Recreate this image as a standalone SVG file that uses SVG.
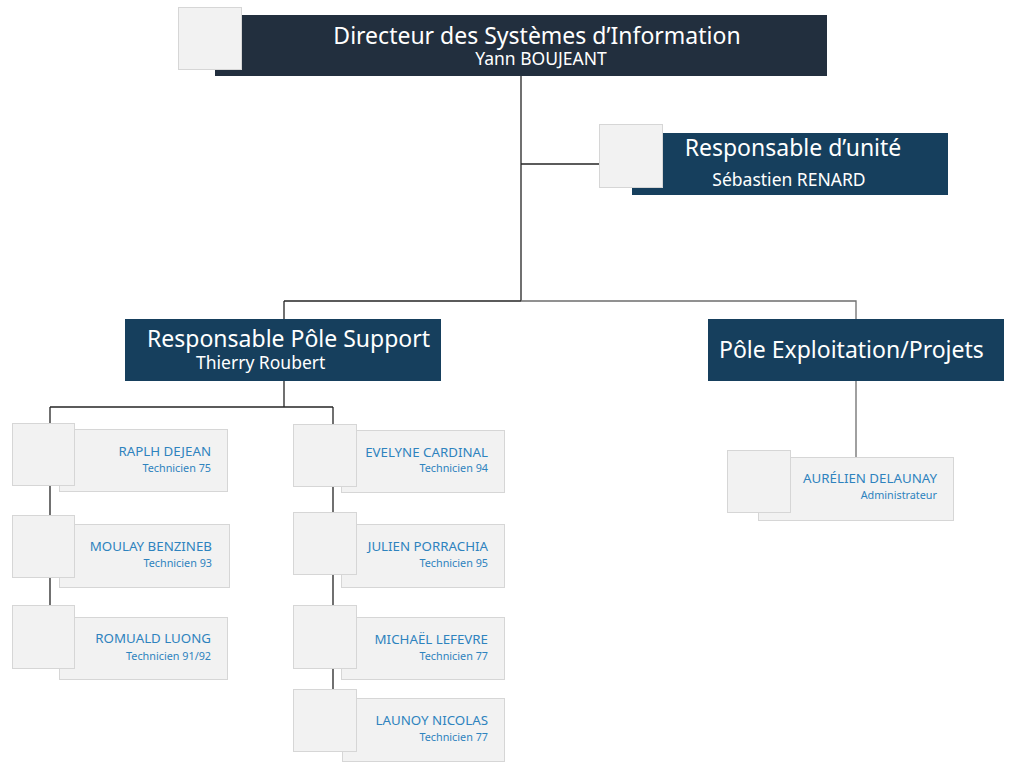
<svg xmlns="http://www.w3.org/2000/svg" width="1020" height="767" viewBox="0 0 1020 767">
<style>
.ln{stroke:#262626;stroke-width:1.3;fill:none}
.lg{stroke:#6e6e6e;stroke-width:1.3;fill:none}
.ph{fill:#f2f2f2;stroke:#d6d6d6;stroke-width:1}
.cd{fill:#f2f2f2;stroke:#d6d6d6;stroke-width:1}
.hd{fill:#163f5d}
.t1{font-family:"Noto Sans","Open Sans",sans-serif;font-size:23px;fill:#ffffff}
.t2{font-family:"Noto Sans","Open Sans",sans-serif;font-size:17.5px;fill:#ffffff}
.nm{font-family:"Noto Sans","Open Sans",sans-serif;font-size:13.3px;fill:#2e83be;text-anchor:end}
.sb{font-family:"Noto Sans","Open Sans",sans-serif;font-size:10.8px;fill:#2e83be;text-anchor:end}
</style>
<rect width="1020" height="767" fill="#ffffff"/>
<g id="connectors">
<path class="ln" d="M521 76V301M521 164H599M284 301H521M284 301V319"/>
<path class="lg" d="M521 301H856V319M856 381V457"/>
<path class="ln" d="M284 381V407M50 407H333M50 407V605M333 407V689"/>
</g>
<g id="dsi">
<rect x="215" y="15" width="612" height="61" fill="#222f3e"/>
<rect class="ph" x="178.5" y="7.5" width="63" height="62"/>
<text class="t1" x="537" y="44" text-anchor="middle">Directeur des Systèmes d’Information</text>
<text class="t2" x="541" y="65" text-anchor="middle">Yann BOUJEANT</text>
</g>
<g id="resp-unite">
<rect class="hd" x="632" y="133" width="316" height="62"/>
<rect class="ph" x="599.5" y="124.5" width="63" height="63"/>
<text class="t1" x="793" y="156" text-anchor="middle">Responsable d’unité</text>
<text class="t2" x="789" y="186" text-anchor="middle">Sébastien RENARD</text>
</g>
<g id="pole-support">
<rect class="hd" x="125" y="319" width="316" height="62"/>
<text class="t1" x="147" y="347">Responsable Pôle Support</text>
<text class="t2" x="196" y="369">Thierry Roubert</text>
</g>
<g id="pole-exploitation">
<rect class="hd" x="708" y="319" width="296" height="62"/>
<text class="t1" x="719" y="358">Pôle Exploitation/Projets</text>
</g>
<g id="dejean">
<rect class="cd" x="59.5" y="429.5" width="168" height="62"/>
<rect class="ph" x="12.5" y="423.5" width="62" height="62"/>
<text class="nm" x="211" y="456">RAPLH DEJEAN</text>
<text class="sb" x="211" y="472">Technicien 75</text>
</g>
<g id="benzineb">
<rect class="cd" x="59.5" y="524.5" width="170" height="63"/>
<rect class="ph" x="12.5" y="515.5" width="62" height="62"/>
<text class="nm" x="212" y="551">MOULAY BENZINEB</text>
<text class="sb" x="212" y="567">Technicien 93</text>
</g>
<g id="luong">
<rect class="cd" x="59.5" y="617.5" width="168" height="62"/>
<rect class="ph" x="12.5" y="605.5" width="62" height="63"/>
<text class="nm" x="211" y="643">ROMUALD LUONG</text>
<text class="sb" x="211" y="660">Technicien 91/92</text>
</g>
<g id="cardinal">
<rect class="cd" x="341.5" y="430.5" width="163" height="62"/>
<rect class="ph" x="293.5" y="424.5" width="63" height="62"/>
<text class="nm" x="488" y="457">EVELYNE CARDINAL</text>
<text class="sb" x="488" y="472">Technicien 94</text>
</g>
<g id="porrachia">
<rect class="cd" x="341.5" y="524.5" width="163" height="63"/>
<rect class="ph" x="293.5" y="512.5" width="63" height="62"/>
<text class="nm" x="488" y="551">JULIEN PORRACHIA</text>
<text class="sb" x="488" y="567">Technicien 95</text>
</g>
<g id="lefevre">
<rect class="cd" x="341.5" y="617.5" width="163" height="62"/>
<rect class="ph" x="293.5" y="605.5" width="63" height="63"/>
<text class="nm" x="488" y="644">MICHAËL LEFEVRE</text>
<text class="sb" x="488" y="660">Technicien 77</text>
</g>
<g id="nicolas">
<rect class="cd" x="342.5" y="698.5" width="162" height="63"/>
<rect class="ph" x="293.5" y="689.5" width="63" height="62"/>
<text class="nm" x="488" y="725">LAUNOY NICOLAS</text>
<text class="sb" x="488" y="741">Technicien 77</text>
</g>
<g id="delaunay">
<rect class="cd" x="758.5" y="457.5" width="195" height="63"/>
<rect class="ph" x="727.5" y="450.5" width="63" height="62"/>
<text class="nm" x="937" y="483">AURÉLIEN DELAUNAY</text>
<text class="sb" x="937" y="499">Administrateur</text>
</g>
</svg>
